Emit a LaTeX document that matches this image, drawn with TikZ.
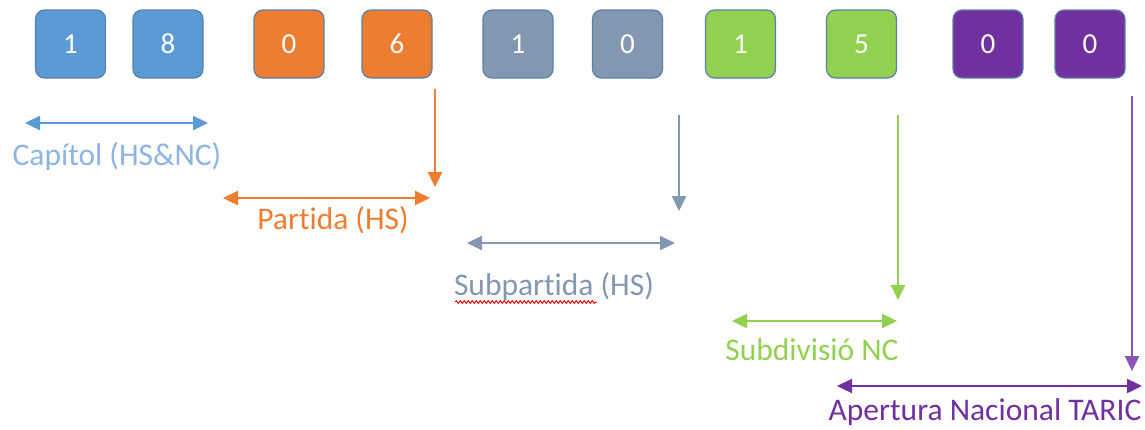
\documentclass[tikz,border=0pt]{standalone}
\usepackage{fontspec}
\setmainfont{Carlito}[Ligatures={NoCommon}]
\usetikzlibrary{arrows.meta,decorations.pathmorphing}
\definecolor{cblue}{HTML}{5B9BD5}
\definecolor{cbluetxt}{HTML}{8EB4E3}
\definecolor{corange}{HTML}{ED7D31}
\definecolor{cgray}{HTML}{8497B0}
\definecolor{cgreen}{HTML}{92D050}
\definecolor{cpurple}{HTML}{7030A0}
\definecolor{cpurplel}{HTML}{8A55B8}
\definecolor{boxline}{HTML}{5A7FA8}
\begin{document}
\begin{tikzpicture}[x=1pt,y=-1pt,
  digit/.style={draw=boxline, line width=1.2pt, rounded corners=9pt,
    minimum width=70pt, minimum height=68pt, inner sep=0pt, text=white,
    font=\fontsize{29}{29}\selectfont},
  arr/.style={line width=2.4pt, -{Triangle[length=15pt,width=14pt]}},
  darr/.style={line width=2.4pt, {Triangle[length=15pt,width=14pt]}-{Triangle[length=15pt,width=14pt]}},
  lab/.style={font=\fontsize{31.5}{31.5}\selectfont, inner sep=0pt}
]
\useasboundingbox (0,0) rectangle (1145,429);
% digit boxes
\node[digit, fill=cblue]   (b1)  at (70.5,44)  {1};
\node[digit, fill=cblue]   (b2)  at (168,44)   {8};
\node[digit, fill=corange] (b3)  at (289,44)   {0};
\node[digit, fill=corange] (b4)  at (397,44)   {6};
\node[digit, fill=cgray]   (b5)  at (518,44)   {1};
\node[digit, fill=cgray]   (b6)  at (627.5,44) {0};
\node[digit, fill=cgreen]  (b7)  at (740.5,44) {1};
\node[digit, fill=cgreen]  (b8)  at (861.5,44) {5};
\node[digit, fill=cpurple] (b9)  at (988,44)   {0};
\node[digit, fill=cpurple] (b10) at (1090,44)  {0};
% coordinates
\coordinate (c1a) at (25,123);  \coordinate (c1b) at (208,123);
\coordinate (o0) at (435,89);   \coordinate (o1) at (435,187);
\coordinate (c2a) at (223,198); \coordinate (c2b) at (430,198);
\coordinate (g0) at (679,115);  \coordinate (g1) at (679,211);
\coordinate (c3a) at (467,243); \coordinate (c3b) at (675,243);
\coordinate (n0) at (898,115);  \coordinate (n1) at (898,300);
\coordinate (c4a) at (732,321); \coordinate (c4b) at (897,321);
\coordinate (p0) at (1132,96);  \coordinate (p1) at (1132,371);
\coordinate (c5a) at (837,386); \coordinate (c5b) at (1142,386);
% arrows
\draw[darr, cblue] (c1a) -- (c1b);
\draw[arr, corange] (o0) -- (o1);
\draw[darr, corange] (c2a) -- (c2b);
\draw[arr, cgray] (g0) -- (g1);
\draw[darr, cgray] (c3a) -- (c3b);
\draw[arr, cgreen] (n0) -- (n1);
\draw[darr, cgreen] (c4a) -- (c4b);
\draw[arr, cpurplel] (p0) -- (p1);
\draw[darr, cpurple] (c5a) -- (c5b);
% labels
\node[lab, text=cbluetxt] (l1) at (117,157) {Capítol (HS\&NC)};
\node[lab, text=corange]  (l2) at (333,220) {Partida (HS)};
\node[lab, text=cgray]    (l3) at (554,287) {Subpartida (HS)};
\node[lab, text=cgreen]   (l4) at (812,350) {Subdivisió NC};
\node[lab, text=cpurple]  (l5) at (985,412) {Apertura Nacional TARIC};
% spell-check squiggle
\draw[red, line width=1pt, decorate, decoration={snake, amplitude=1.3pt, segment length=4pt}]
  (455,302) -- (597,302);
\end{tikzpicture}
\end{document}
